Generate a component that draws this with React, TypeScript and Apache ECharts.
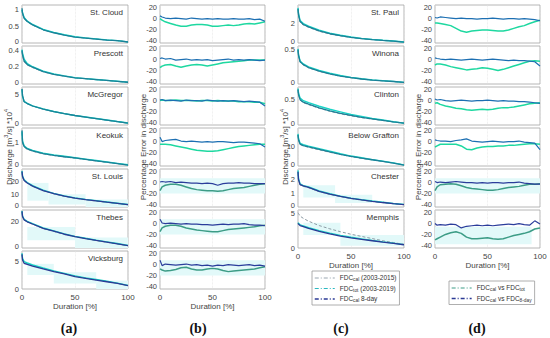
import React, { useEffect, useRef } from 'react';
import * as echarts from 'echarts';

// ---------- DATA ----------
const DUR = [0, 0.5, 2, 5, 10, 20, 30, 40, 50, 60, 70, 80, 90, 100];
const DUR_ERR = [0, 2, 5, 10, 15, 20, 25, 30, 35, 40, 45, 50, 55, 60, 65, 70, 75, 80, 85, 90, 95, 100];

// column (a)
const CLOUD_CAL = [1.0, 0.88, 0.74, 0.64, 0.54, 0.4, 0.31, 0.24, 0.18, 0.15, 0.12, 0.09, 0.07, 0.03];
const CLOUD_TOT = [1.0, 0.92, 0.77, 0.66, 0.56, 0.41, 0.32, 0.25, 0.19, 0.155, 0.125, 0.095, 0.072, 0.035];
const CLOUD_8D = [1.05, 0.9, 0.75, 0.65, 0.55, 0.4, 0.31, 0.24, 0.18, 0.15, 0.12, 0.09, 0.07, 0.03];

const PRES_CAL = [0.37, 0.32, 0.25, 0.215, 0.185, 0.138, 0.108, 0.088, 0.069, 0.059, 0.049, 0.039, 0.029, 0.019];
const PRES_TOT = [0.39, 0.35, 0.28, 0.23, 0.195, 0.145, 0.115, 0.092, 0.072, 0.061, 0.051, 0.041, 0.031, 0.021];
const PRES_8D = [0.38, 0.33, 0.26, 0.22, 0.19, 0.14, 0.11, 0.09, 0.07, 0.06, 0.05, 0.04, 0.03, 0.02];

const MCG_CAL = [5.8, 4.7, 3.78, 3.48, 3.08, 2.59, 2.19, 1.84, 1.54, 1.29, 1.04, 0.79, 0.54, 0.29];
const MCG_TOT = [5.8, 4.7, 3.85, 3.52, 3.12, 2.62, 2.21, 1.86, 1.56, 1.31, 1.06, 0.81, 0.56, 0.32];
const MCG_8D = [5.9, 4.8, 3.8, 3.5, 3.1, 2.6, 2.2, 1.85, 1.55, 1.3, 1.05, 0.8, 0.55, 0.3];

const KEO_CAL = [1.4, 0.98, 0.8, 0.7, 0.62, 0.51, 0.44, 0.38, 0.33, 0.27, 0.21, 0.15, 0.1, 0.04];
const KEO_TOT = [1.45, 1.05, 0.85, 0.74, 0.66, 0.54, 0.47, 0.41, 0.35, 0.29, 0.23, 0.17, 0.11, 0.05];
const KEO_8D = [1.5, 1.0, 0.82, 0.72, 0.64, 0.52, 0.45, 0.39, 0.34, 0.28, 0.22, 0.16, 0.1, 0.04];

const STL_CAL = [27.5, 23.5, 20.7, 18.8, 16.3, 12.9, 10.4, 8.4, 6.9, 5.7, 4.7, 3.7, 2.8, 1.8];
const STL_TOT = [28.5, 24.5, 21.5, 19.3, 16.8, 13.3, 10.8, 8.8, 7.2, 6, 5, 4, 3, 2];
const STL_8D = [28, 24, 21, 19, 16.5, 13, 10.5, 8.5, 7, 5.8, 4.8, 3.8, 2.9, 1.9];

const THE_CAL = [27.6, 23.7, 21.3, 19.8, 18.1, 14.8, 12.6, 10.4, 8.6, 7.1, 5.7, 4.4, 3.1, 1.7];
const THE_TOT = [28.3, 24.4, 21.9, 20.4, 18.6, 15.3, 13.1, 10.8, 8.9, 7.4, 6, 4.7, 3.4, 2];
const THE_8D = [28, 24, 21.5, 20, 18.3, 15, 12.8, 10.5, 8.7, 7.2, 5.8, 4.5, 3.2, 1.8];

const VIC_CAL = [6.3, 5.4, 4.8, 4.55, 4.2, 3.7, 3.2, 2.75, 2.3, 1.95, 1.65, 1.35, 1.02, 0.62];
const VIC_TOT = [6.4, 5.5, 4.9, 4.65, 4.3, 3.75, 3.25, 2.8, 2.35, 2.0, 1.7, 1.4, 1.05, 0.65];
const VIC_8D = [6.2, 5.2, 4.6, 4.4, 4.1, 3.6, 3.1, 2.7, 2.2, 1.9, 1.6, 1.3, 1.0, 0.6];

// column (c)
const STP_CAL = [3.4, 2.8, 2.15, 1.85, 1.6, 1.2, 0.92, 0.72, 0.56, 0.44, 0.34, 0.26, 0.19, 0.1];
const STP_TOT = [3.6, 3.0, 2.3, 2.0, 1.72, 1.32, 1.02, 0.8, 0.62, 0.48, 0.37, 0.28, 0.21, 0.11];
const STP_8D = [3.5, 2.9, 2.2, 1.9, 1.65, 1.25, 0.95, 0.75, 0.58, 0.45, 0.35, 0.27, 0.2, 0.1];

const WIN_CAL = [0.47, 0.39, 0.305, 0.265, 0.225, 0.176, 0.137, 0.108, 0.086, 0.069, 0.054, 0.044, 0.034, 0.021];
const WIN_TOT = [0.49, 0.41, 0.32, 0.28, 0.24, 0.19, 0.15, 0.118, 0.093, 0.074, 0.058, 0.047, 0.036, 0.023];
const WIN_8D = [0.48, 0.4, 0.31, 0.27, 0.23, 0.18, 0.14, 0.11, 0.088, 0.07, 0.055, 0.045, 0.035, 0.022];

const CLI_CAL = [0.69, 0.59, 0.49, 0.44, 0.4, 0.33, 0.27, 0.22, 0.18, 0.145, 0.115, 0.088, 0.058, 0.033];
const CLI_TOT = [0.72, 0.63, 0.53, 0.48, 0.44, 0.37, 0.31, 0.26, 0.21, 0.17, 0.13, 0.1, 0.065, 0.038];
const CLI_8D = [0.7, 0.6, 0.5, 0.45, 0.41, 0.34, 0.28, 0.23, 0.19, 0.15, 0.12, 0.09, 0.06, 0.035];

const GRA_CAL = [15.8, 13.3, 11, 10.3, 9.6, 8.3, 7, 5.9, 4.8, 3.9, 3.1, 2.35, 1.45, 0.5];
const GRA_TOT = [16.5, 14, 11.6, 10.9, 10.2, 8.9, 7.6, 6.3, 5.1, 4.2, 3.3, 2.5, 1.6, 0.55];
const GRA_8D = [16, 13.5, 11.2, 10.5, 9.8, 8.5, 7.2, 6, 4.9, 4, 3.2, 2.4, 1.5, 0.5];

const CHE_CAL = [2.5, 1.95, 1.62, 1.52, 1.42, 1.13, 0.93, 0.77, 0.62, 0.51, 0.41, 0.32, 0.24, 0.17];
const CHE_TOT = [2.7, 2.1, 1.7, 1.58, 1.48, 1.18, 0.98, 0.8, 0.65, 0.54, 0.44, 0.35, 0.26, 0.19];
const CHE_8D = [2.6, 2.0, 1.65, 1.55, 1.45, 1.15, 0.95, 0.78, 0.63, 0.52, 0.42, 0.33, 0.25, 0.18];

const MEM_CAL = [4.87, 4.75, 4.4, 4.1, 3.7, 3.1, 2.65, 2.25, 1.9, 1.6, 1.3, 1.0, 0.75, 0.5];
const MEM_TOT = [3.5, 3.4, 3.2, 3.05, 2.8, 2.4, 2.05, 1.75, 1.48, 1.26, 1.05, 0.85, 0.68, 0.47];
const MEM_8D = [3.4, 3.3, 3.1, 2.95, 2.7, 2.3, 1.95, 1.65, 1.4, 1.2, 1.0, 0.8, 0.65, 0.45];

// column (b) errors
const E_CLOUD_TOT = [0, -3, -6, -9, -12, -14, -14, -12, -11, -11, -12, -14, -14, -13, -12, -13, -12, -10, -9, -10, -8, -6];
const E_CLOUD_8D = [5, 3, 1, 0, 1, 0, -1, 1, 0, -1, 0, -1, 0, -1, -1, 0, -1, -1, 0, -2, -1, -5];
const E_PRES_TOT = [-15, -12, -10, -9, -12, -14, -12, -10, -9, -10, -12, -10, -8, -6, -5, -4, -3, -2, -1, -1, -1, -1];
const E_PRES_8D = [2, 3, 1, 2, -1, 0, 1, -1, 0, -1, 0, -2, -1, 0, 1, -1, 0, -1, 0, -1, -2, -1];
const E_MCG_TOT = [0, 1, 0, 0, 1, 0, 0, 0, -1, 0, 0, -1, 0, -1, -1, -1, -2, -2, -2, -3, -3, -6];
const E_MCG_8D = [1, 2, 0, 1, 0, -1, 1, 0, 0, -1, 1, 0, -1, 0, -1, 0, -1, -2, -1, -2, -3, -10];
const E_KEO_TOT = [-5, -5, -5, -6, -8, -10, -12, -14, -16, -17, -18, -18, -17, -15, -13, -11, -9, -8, -7, -6, -5, -5];
const E_KEO_8D = [8, 0, 2, 3, 4, 1, 0, 1, 0, -1, 0, -1, 0, 0, -1, -2, -1, -1, -2, -3, -4, -10];
const E_STL_TOT = [-15, -8, -5, -3, -3, -5, -8, -11, -13, -14, -15, -15, -16, -15, -13, -11, -10, -9, -7, -5, -3, -2];
const E_STL_8D = [1, 2, 1, 2, 0, 1, 0, -1, -1, -2, -1, -2, -5, -2, -1, -1, 0, -1, -1, -2, -2, -2];
const E_THE_TOT = [-15, -8, -5, -3, -3, -5, -8, -10, -12, -13, -14, -15, -15, -13, -11, -10, -9, -8, -7, -6, -4, -3];
const E_THE_8D = [8, 1, 0, 1, 0, -1, 0, -1, -1, -2, -2, -3, -2, -1, -2, -1, -1, 0, -2, -3, -3, -4];
const E_VIC_TOT = [-8, -10, -12, -11, -9, -6, -5, -8, -10, -10, -8, -7, -8, -11, -13, -12, -11, -10, -9, -8, -6, -4];
const E_VIC_8D = [8, -2, 1, 0, -1, 0, 1, -1, 0, -2, -1, -3, -1, -2, 0, -1, -2, -1, 0, -2, -1, -3];

// column (d) errors
const E_STP_TOT = [-8, -8, -9, -11, -13, -18, -23, -25, -23, -22, -21, -21, -22, -23, -23, -21, -18, -15, -13, -9, -6, -3];
const E_STP_8D = [2, 1, 3, 2, 1, 0, 1, 0, 0, -1, 0, 0, 1, 0, -1, 0, 0, -1, 0, -1, -2, -4];
const E_WIN_TOT = [-10, -8, -8, -10, -13, -15, -17, -19, -18, -17, -15, -16, -18, -20, -18, -15, -12, -9, -6, -3, -2, -3];
const E_WIN_8D = [3, 2, 1, 0, 1, 0, -1, 0, 1, 0, -1, 0, 1, 0, -1, -2, -1, -2, -2, -3, -4, -12];
const E_CLI_TOT = [-5, -4, -7, -10, -12, -14, -15, -17, -18, -17, -16, -17, -16, -14, -13, -13, -12, -10, -8, -6, -5, -4];
const E_CLI_8D = [3, 1, 2, 0, -1, 0, 1, 0, -1, 0, 0, 1, 0, -1, 0, -1, -1, -2, -2, -3, -4, -5];
const E_GRA_TOT = [-10, -8, -5, -5, -5, -5, -8, -14, -15, -12, -10, -9, -9, -8, -8, -7, -7, -6, -5, -4, -4, -5];
const E_GRA_8D = [3, 2, 1, 1, 0, 2, 3, 5, 1, 0, -1, 0, 1, 0, -1, 0, 0, 1, -1, -2, -3, -15];
const E_CHE_TOT = [-15, -8, -4, -3, -2, -3, -6, -9, -11, -12, -13, -14, -14, -13, -11, -9, -8, -7, -5, -3, -3, -2];
const E_CHE_8D = [2, 0, 1, 0, 1, 2, 1, 0, 0, -1, 0, -1, 0, 0, -1, 0, 0, 1, -1, -2, -3, -3];
const E_MEM_TOT = [-30, -28, -25, -20, -17, -15, -18, -25, -28, -28, -27, -26, -28, -29, -28, -25, -22, -20, -18, -15, -10, -8];
const E_MEM_8D = [0, -3, -2, -3, -1, -2, -8, -5, -4, -3, -4, -3, -4, -3, -2, -1, -2, 0, -2, -3, 5, -1];

// light shading blocks [x0, x1, y0, y1]
const SHADE_STL = [[5, 25, 5, 19], [25, 60, 2, 10], [60, 100, 0, 6]];
const SHADE_THE = [[5, 50, 6, 16], [50, 100, 0, 8]];
const SHADE_VIC = [[5, 30, 2.5, 4.5], [30, 70, 1, 3], [70, 100, 0, 1.5]];
const SHADE_CHE = [[5, 35, 0.7, 1.6], [35, 70, 0.3, 0.9]];
const SHADE_MEM = [[5, 40, 1.8, 3.5], [40, 100, 0.3, 1.8]];
const SHADE_ERR = [[0, 100, -20, 8]];
const SHADE_ERR_MEM = [[0, 92, -38, -6]];

const FDC_A = [
  { st: 'St. Cloud', cal: CLOUD_CAL, tot: CLOUD_TOT, d8: CLOUD_8D, max: 1.15, step: 0.5 },
  { st: 'Prescott', cal: PRES_CAL, tot: PRES_TOT, d8: PRES_8D, max: 0.43, step: 0.2, topTick: 0.4 },
  { st: 'McGregor', cal: MCG_CAL, tot: MCG_TOT, d8: MCG_8D, max: 6.2, step: 5 },
  { st: 'Keokuk', cal: KEO_CAL, tot: KEO_TOT, d8: KEO_8D, max: 1.6, step: 1 },
  { st: 'St. Louis', cal: STL_CAL, tot: STL_TOT, d8: STL_8D, max: 30, step: 10, shade: SHADE_STL },
  { st: 'Thebes', cal: THE_CAL, tot: THE_TOT, d8: THE_8D, max: 29, step: 20, shade: SHADE_THE },
  { st: 'Vicksburg', cal: VIC_CAL, tot: VIC_TOT, d8: VIC_8D, max: 6.8, step: 5, shade: SHADE_VIC },
];
const FDC_C = [
  { st: 'St. Paul', cal: STP_CAL, tot: STP_TOT, d8: STP_8D, max: 3.9, step: 2 },
  { st: 'Winona', cal: WIN_CAL, tot: WIN_TOT, d8: WIN_8D, max: 0.53, step: 0.5, topTick: 0.5 },
  { st: 'Clinton', cal: CLI_CAL, tot: CLI_TOT, d8: CLI_8D, max: 0.75, step: 0.5 },
  { st: 'Below Grafton', cal: GRA_CAL, tot: GRA_TOT, d8: GRA_8D, max: 19.5, step: 10 },
  { st: 'Chester', cal: CHE_CAL, tot: CHE_TOT, d8: CHE_8D, max: 2.8, step: 1, shade: SHADE_CHE },
  { st: 'Memphis', cal: MEM_CAL, tot: MEM_TOT, d8: MEM_8D, max: 5.25, step: 5, shade: SHADE_MEM, topTick: 5 },
];
const ERR_B = [
  { tot: E_CLOUD_TOT, d8: E_CLOUD_8D },
  { tot: E_PRES_TOT, d8: E_PRES_8D },
  { tot: E_MCG_TOT, d8: E_MCG_8D },
  { tot: E_KEO_TOT, d8: E_KEO_8D },
  { tot: E_STL_TOT, d8: E_STL_8D, shade: SHADE_ERR },
  { tot: E_THE_TOT, d8: E_THE_8D, shade: SHADE_ERR },
  { tot: E_VIC_TOT, d8: E_VIC_8D, shade: SHADE_ERR },
];
const ERR_D = [
  { tot: E_STP_TOT, d8: E_STP_8D },
  { tot: E_WIN_TOT, d8: E_WIN_8D },
  { tot: E_CLI_TOT, d8: E_CLI_8D },
  { tot: E_GRA_TOT, d8: E_GRA_8D },
  { tot: E_CHE_TOT, d8: E_CHE_8D, shade: SHADE_ERR },
  { tot: E_MEM_TOT, d8: E_MEM_8D, shade: SHADE_ERR_MEM },
];

const N_CAL = 'FDC_cal (2003-2015)';
const N_TOT = 'FDC_tot (2003-2019)';
const N_8D = 'FDC_cal 8-day';
const N_ETOT = 'FDC_cal vs FDC_tot';
const N_E8D = 'FDC_cal vs FDC_8-day';
const LEGEND_RICH: Record<string, string> = {
  [N_CAL]: '{t|FDC}{s|cal}{t| (2003-2015)}',
  [N_TOT]: '{t|FDC}{s|tot}{t| (2003-2019)}',
  [N_8D]: '{t|FDC}{s|cal}{t| 8-day}',
  [N_ETOT]: '{t|FDC}{s|cal}{t| vs FDC}{s|tot}',
  [N_E8D]: '{t|FDC}{s|cal}{t| vs FDC}{s|8-day}',
};

// ---------- LAYOUT / STYLE ----------
const COL_LEFT = [22, 160, 298, 435];
const COL_W = [106, 105, 106, 105];
const ROW_TOP = [5, 46, 87, 128, 169, 210, 251];
const ROW_H = 38;
const FONT = 'Liberation Sans, Arial, sans-serif';
const TICK_FS = 7.5;
const C_GRAY = '#8c9ba4';
const C_CYAN = '#18d4c6';
const C_TEAL = '#1a8198';
const C_NAVY = '#2b3a95';
const C_GREEN_HI = '#1ed8a0';
const C_BLUE_HI = '#1c6fb2';
const C_GREEN_LO = '#3c9c86';
const C_BLUE_LO = '#2b3d9b';
const C_SHADE = '#e2f9f9';
const HIDDEN = 'rgba(0,0,0,0)';

export default function App() {
  const ref = useRef<HTMLDivElement>(null);
  useEffect(() => {
    if (!ref.current) return;
    const chart = echarts.init(ref.current, undefined, { renderer: 'svg' });
    const grids: any[] = [];
    const xAxes: any[] = [];
    const yAxes: any[] = [];
    const series: any[] = [];
    const graphics: any[] = [];

    const shadeArea = (blocks?: number[][]) =>
      blocks
        ? {
            silent: true,
            itemStyle: { color: C_SHADE },
            data: blocks.map((b) => [
              { xAxis: b[0], yAxis: b[3] },
              { xAxis: b[1], yAxis: b[2] },
            ]),
          }
        : undefined;

    const tickRich = {
      lo: { fontSize: TICK_FS, color: '#444', fontFamily: FONT, padding: [0, 0, 3, 0] },
      hi: { fontSize: TICK_FS, color: '#444', fontFamily: FONT, padding: [3, 0, 0, 0] },
    };

    const addPanel = (col: number, row: number, isBottom: boolean, kind: 'fdc' | 'err', cfg: any) => {
      const idx = grids.length;
      const left = COL_LEFT[col];
      const top = ROW_TOP[row];
      grids.push({
        left, top, width: COL_W[col], height: ROW_H,
        show: true, borderColor: '#a3a3a3', borderWidth: 0.8, backgroundColor: 'transparent',
      });
      xAxes.push({
        type: 'value', gridIndex: idx, min: 0, max: 100, interval: 50,
        axisLine: { show: false }, axisTick: { show: false },
        splitLine: { show: true, lineStyle: { color: '#e2e2e2', width: 0.7, type: 'dotted' } },
        axisLabel: { show: isBottom, fontSize: 8, color: '#444', margin: 4, fontFamily: FONT },
        name: isBottom ? 'Duration [%]' : '',
        nameLocation: 'middle', nameGap: 13,
        nameTextStyle: { fontSize: 8, color: '#444', fontFamily: FONT },
      });
      const bright = row < 4;
      if (kind === 'fdc') {
        yAxes.push({
          type: 'value', gridIndex: idx, min: 0, max: cfg.max, interval: cfg.step,
          axisLine: { show: false }, axisTick: { show: false }, splitLine: { show: false },
          axisLabel: {
            fontSize: TICK_FS, color: '#444', margin: 3, showMaxLabel: false, fontFamily: FONT,
            rich: tickRich,
            formatter: (v: number) => {
              const s = String(+v.toFixed(6));
              if (v === 0 && !isBottom) return '{lo|' + s + '}';
              if (cfg.topTick !== undefined && Math.abs(v - cfg.topTick) < 1e-9) return '{hi|' + s + '}';
              return s;
            },
          },
        });
        const mk = (name: string, arr: number[], color: string, width: number, type: any, ma?: any) => ({
          type: 'line', name, xAxisIndex: idx, yAxisIndex: idx, silent: true,
          showSymbol: false, symbol: 'none',
          lineStyle: { color, width, type }, itemStyle: { color },
          data: DUR.map((d, i) => [d, arr[i]]),
          markArea: ma,
        });
        series.push(mk(N_CAL, cfg.cal, C_GRAY, 1, [3, 2], shadeArea(cfg.shade)));
        series.push(mk(N_TOT, cfg.tot, C_CYAN, 1.4, 'solid'));
        series.push(mk(N_8D, cfg.d8, bright ? C_TEAL : C_NAVY, 1.3, 'solid'));
        graphics.push({
          type: 'text', x: left + COL_W[col] - 5, y: top + 7, silent: true,
          style: { text: cfg.st, fontSize: 8, fill: '#333', fontFamily: FONT, align: 'right', verticalAlign: 'middle' },
        });
      } else {
        yAxes.push({
          type: 'value', gridIndex: idx, min: -45, max: 25, interval: 5,
          axisLine: { show: false }, axisTick: { show: false }, splitLine: { show: false },
          axisLabel: {
            fontSize: TICK_FS, color: '#444', margin: 3, fontFamily: FONT,
            formatter: (v: number) => (Math.round(v) % 20 === 0 ? String(Math.round(v)) : ''),
          },
        });
        const mk = (name: string, arr: number[], color: string, width: number, ma?: any) => ({
          type: 'line', name, xAxisIndex: idx, yAxisIndex: idx, silent: true,
          showSymbol: false, symbol: 'none',
          lineStyle: { color, width }, itemStyle: { color },
          data: DUR_ERR.map((d, i) => [d, arr[i]]),
          markArea: ma,
        });
        series.push(mk(N_ETOT, cfg.tot, bright ? C_GREEN_HI : C_GREEN_LO, 1.5, shadeArea(cfg.shade)));
        series.push(mk(N_E8D, cfg.d8, bright ? C_BLUE_HI : C_BLUE_LO, 1.2));
      }
    };

    FDC_A.forEach((c, r) => addPanel(0, r, r === FDC_A.length - 1, 'fdc', c));
    ERR_B.forEach((c, r) => addPanel(1, r, r === ERR_B.length - 1, 'err', c));
    FDC_C.forEach((c, r) => addPanel(2, r, r === FDC_C.length - 1, 'fdc', c));
    ERR_D.forEach((c, r) => addPanel(3, r, r === ERR_D.length - 1, 'err', c));

    const yTitle = (x: number, y: number, text: string) => ({
      type: 'text', x, y, rotation: Math.PI / 2, silent: true,
      style: {
        text, fontFamily: FONT, fontSize: 8, fill: '#444', align: 'center', verticalAlign: 'middle',
        rich: {
          t: { fontSize: 8, fill: '#444', lineHeight: 11, verticalAlign: 'bottom', fontFamily: FONT },
          p: { fontSize: 5.5, fill: '#444', lineHeight: 6, verticalAlign: 'top', fontFamily: FONT },
        },
      },
    });
    const dischargeTitle = '{t|Discharge [m}{p|3}{t|/s] *10}{p|4}';
    graphics.push(yTitle(8, 147, dischargeTitle));
    graphics.push(yTitle(284, 147, dischargeTitle));
    graphics.push(yTitle(142, 147, '{t|Percentage Error in discharge}'));
    graphics.push(yTitle(417, 147, '{t|Percentage Error in discharge}'));

    const letters = [['(a)', 69], ['(b)', 198], ['(c)', 341], ['(d)', 477]];
    letters.forEach(([t, x]) =>
      graphics.push({
        type: 'text', x, y: 328, silent: true,
        style: { text: t, fontFamily: 'Liberation Serif, serif', fontSize: 14, fontWeight: 'bold', fill: '#111', align: 'center', verticalAlign: 'middle' },
      })
    );

    const legendRich = {
      t: { fontSize: 6.5, color: '#333', lineHeight: 8, verticalAlign: 'top', fontFamily: FONT },
      s: { fontSize: 4.8, color: '#333', lineHeight: 5, padding: [4, 0, 0, 0], verticalAlign: 'bottom', fontFamily: FONT },
    };
    const legendBase = {
      orient: 'vertical', itemGap: 1.5, itemWidth: 20, itemHeight: 8,
      borderColor: '#9a9a9a', borderWidth: 0.8, backgroundColor: '#fff',
      selectedMode: false,
      textStyle: { fontSize: 6.5, color: '#333', fontFamily: FONT, rich: legendRich },
      formatter: (name: string) => LEGEND_RICH[name] || name,
    };
    const legItem = (name: string, color: string, width: number) => ({
      name,
      lineStyle: { color, width, type: [4, 2, 1, 2] },
      itemStyle: { color: HIDDEN, borderColor: HIDDEN, borderWidth: 0, opacity: 0 },
    });

    chart.setOption({
      animation: false,
      backgroundColor: '#fff',
      grid: grids,
      xAxis: xAxes,
      yAxis: yAxes,
      series,
      graphic: graphics,
      legend: [
        {
          ...legendBase, left: 312, top: 271, padding: [2, 3, 2, 2],
          data: [
            legItem(N_CAL, '#9aa6b0', 1),
            legItem(N_TOT, '#2bb8c0', 1),
            legItem(N_8D, C_NAVY, 1.5),
          ],
        },
        {
          ...legendBase, left: 449, top: 281, padding: [2, 3, 2, 2],
          data: [
            legItem(N_ETOT, C_GREEN_LO, 1),
            legItem(N_E8D, C_NAVY, 1.3),
          ],
        },
      ],
    });
    return () => chart.dispose();
  }, []);
  return <div ref={ref} style={{ position: 'fixed', left: 0, top: 0, width: 550, height: 338 }} />;
}
